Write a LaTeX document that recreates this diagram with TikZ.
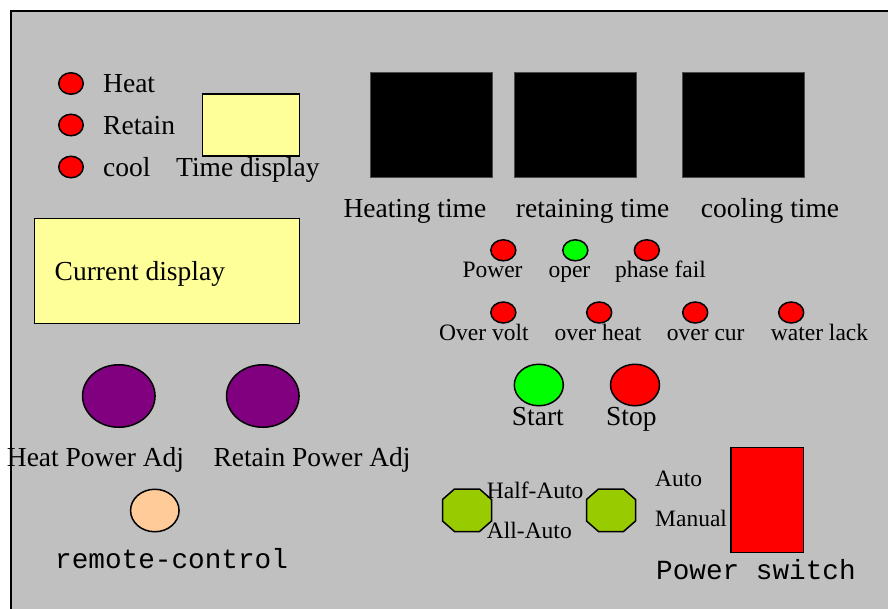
\documentclass[tikz,border=0pt]{standalone}
\usepackage{fontspec}
\setmainfont{Liberation Serif}
\setmonofont{Liberation Mono}
\usetikzlibrary{shapes.geometric}
\definecolor{panelgray}{HTML}{C0C0C0}
\definecolor{dispyellow}{HTML}{FFFF99}
\definecolor{knobpurple}{HTML}{800080}
\definecolor{peach}{HTML}{FFCC99}
\definecolor{ledgreen}{HTML}{00FF00}
\definecolor{ledred}{HTML}{FF0000}
\definecolor{olive}{HTML}{99CC00}
\tikzset{
  big/.style={font=\fontsize{27.5}{30}\selectfont},
  mid/.style={font=\fontsize{23.5}{26}\selectfont},
  small/.style={font=\fontsize{23.5}{26}\selectfont},
  mono/.style={font=\fontsize{27.7}{30}\selectfont\ttfamily},
  lbl/.style={inner sep=0pt, anchor=base west},
  oval/.style={ellipse, draw=black, line width=1.5pt, inner sep=0pt},
  led/.style={oval, fill=ledred, minimum width=24.5pt, minimum height=21.5pt},
  smallled/.style={oval, minimum width=25pt, minimum height=21pt},
  box/.style={rectangle, draw=black, line width=1.5pt, inner sep=0pt},
  blackbox/.style={rectangle, fill=black, draw=black!70, line width=0.6pt, inner sep=0pt, minimum width=121.5pt, minimum height=105.5pt},
  octa/.style={fill=olive, draw=black, line width=1.5pt}
}
\begin{document}
\begin{tikzpicture}[x=1pt,y=-1pt]
\useasboundingbox (0,0) rectangle (888,608);
\fill[white] (0,0) rectangle (888,608);
\clip (0,0) rectangle (888,608);
% panel
\draw[fill=panelgray, line width=2pt] (11,11) rectangle (900,620);

% mode LEDs
\node[led] (ledheat) at (71,83.5) {};
\node[led] (ledretain) at (71,125) {};
\node[led] (ledcool) at (71,167) {};
\node[big,lbl] (theat) at (103,92.7) {Heat};
\node[big,lbl] (tretain) at (103,134.7) {Retain};
\node[big,lbl] (tcool) at (103,176) {cool};

% time display
\node[box, fill=dispyellow, minimum width=96.6pt, minimum height=62pt] (timebox) at (251,125) {};
\node[big,lbl] (ttime) at (176,176) {Time display};

% black displays
\node[blackbox] (bheat) at (431.2,125) {};
\node[blackbox] (bretain) at (575.2,125) {};
\node[blackbox] (bcool) at (743.2,125) {};
\node[big,lbl] (theating) at (343.3,217) {Heating time};
\node[big,lbl] (tretaining) at (515.7,217) {retaining time};
\node[big,lbl] (tcooling) at (700.7,217) {cooling time};

% current display
\node[box, fill=dispyellow, minimum width=265pt, minimum height=105pt] (curbox) at (166.8,270.8) {};
\node[big,lbl] (tcur) at (54.5,280) {Current display};

% status LEDs row 1
\node[smallled, fill=ledred] (lpower) at (503.3,250.3) {};
\node[smallled, fill=ledgreen] (loper) at (575.3,250.3) {};
\node[smallled, fill=ledred] (lphase) at (646.8,250.3) {};
\node[small,lbl] (tpower) at (462.3,277.7) {Power};
\node[small,lbl] (toper) at (548.3,277.7) {oper};
\node[small,lbl] (tphase) at (615,277.7) {phase fail};

% status LEDs row 2
\node[smallled, fill=ledred] (lvolt) at (503.3,312.5) {};
\node[smallled, fill=ledred] (lheat) at (599.2,312.5) {};
\node[smallled, fill=ledred] (lcur) at (695.2,312.5) {};
\node[smallled, fill=ledred] (lwater) at (791.2,312.5) {};
\node[small,lbl] (tvolt) at (439,340) {Over volt};
\node[small,lbl] (toheat) at (554.3,340) {over heat};
\node[small,lbl] (tocur) at (666.7,340) {over cur};
\node[small,lbl] (twater) at (770.7,340) {water lack};

% start / stop
\node[oval, fill=ledgreen, minimum width=49pt, minimum height=41.5pt] (bstart) at (538.8,385) {};
\node[oval, fill=ledred, minimum width=49pt, minimum height=41.5pt] (bstop) at (635,385) {};
\node[big,lbl] (tstart) at (511.7,425) {Start};
\node[big,lbl] (tstop) at (606,425) {Stop};

% knobs
\node[oval, fill=knobpurple, minimum width=72.5pt, minimum height=62.5pt] (kheat) at (118.8,396) {};
\node[oval, fill=knobpurple, minimum width=72.5pt, minimum height=62.5pt] (kretain) at (262.8,396) {};
\node[big,lbl] (tkheat) at (6.7,466.7) {Heat Power Adj};
\node[big,lbl] (tkretain) at (213.3,466.7) {Retain Power Adj};

% remote control
\node[oval, fill=peach, minimum width=48.5pt, minimum height=42.5pt] (remote) at (154.8,510.5) {};
\node[mono,lbl] (tremote) at (55,568) {remote-control};

% octagon selectors
\draw[octa] (454.5,489) -- (479.5,489) -- (491.5,499.5) -- (491.5,521) -- (479.5,531.5) -- (454.5,531.5) -- (442.5,521) -- (442.5,499.5) -- cycle;
\draw[octa] (598.5,489) -- (623.5,489) -- (635.5,499.5) -- (635.5,521) -- (623.5,531.5) -- (598.5,531.5) -- (586.5,521) -- (586.5,499.5) -- cycle;
\node[mid,lbl] (thalf) at (486.7,498.3) {Half-Auto};
\node[mid,lbl] (tall) at (486.7,538.3) {All-Auto};

% power switch
\node[mid,lbl] (tauto) at (655,486) {Auto};
\node[mid,lbl] (tmanual) at (655,526.7) {Manual};
\node[box, fill=ledred, minimum width=72.3pt, minimum height=105pt] (pswitch) at (767.2,499.8) {};
\node[mono,lbl] (tpswitch) at (656,579) {Power switch};
\end{tikzpicture}
\end{document}
